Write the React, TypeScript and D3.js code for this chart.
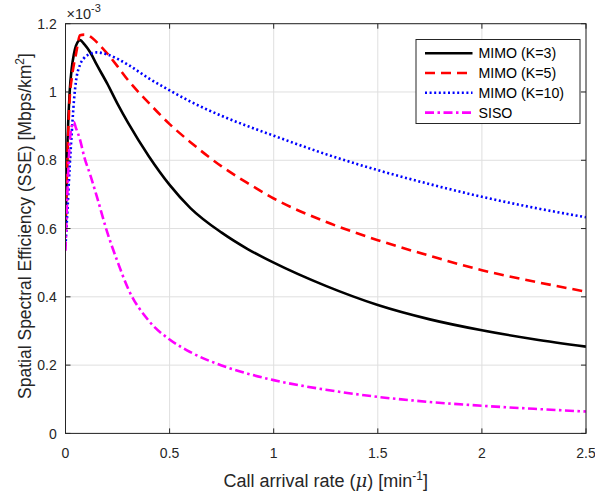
import React from "react";
import * as d3 from "d3";

const xs = [0, 0.01, 0.02, 0.03, 0.04, 0.05, 0.07, 0.09, 0.12, 0.15, 0.2, 0.25, 0.3, 0.4, 0.5, 0.6, 0.75, 0.875, 1, 1.25, 1.5, 1.75, 2, 2.25, 2.5];
const mimoK3 = [0.6, 0.86, 1.0, 1.07, 1.11, 1.135, 1.152, 1.14, 1.115, 1.08, 1.025, 0.965, 0.91, 0.812, 0.728, 0.66, 0.588, 0.54, 0.5, 0.432, 0.376, 0.334, 0.302, 0.276, 0.254];
const mimoK5 = [0.59, 0.82, 0.98, 1.04, 1.08, 1.11, 1.166, 1.168, 1.162, 1.146, 1.113, 1.075, 1.035, 0.968, 0.906, 0.853, 0.782, 0.733, 0.688, 0.62, 0.566, 0.52, 0.478, 0.445, 0.415];
const mimoK10 = [0.55, 0.66, 0.78, 0.88, 0.97, 1.03, 1.08, 1.1, 1.112, 1.116, 1.11, 1.097, 1.08, 1.04, 1.005, 0.972, 0.93, 0.9, 0.872, 0.818, 0.771, 0.73, 0.693, 0.661, 0.633];
const siso = [0.535, 0.72, 0.85, 0.9, 0.912, 0.895, 0.86, 0.81, 0.755, 0.695, 0.59, 0.503, 0.425, 0.33, 0.275, 0.238, 0.199, 0.175, 0.156, 0.128, 0.107, 0.092, 0.081, 0.072, 0.064];

const seriesNames = ["MIMO (K=3)", "MIMO (K=5)", "MIMO (K=10)", "SISO"];
const seriesValues = [mimoK3, mimoK5, mimoK10, siso];
const xTicks = [0, 0.5, 1, 1.5, 2, 2.5];
const yTicks = [0, 0.2, 0.4, 0.6, 0.8, 1, 1.2];

const styles = [
  { color: "#000000", dash: "none", width: 2.6 },
  { color: "#ff0000", dash: "10,6", width: 2.6 },
  { color: "#0000ff", dash: "2,2.6", width: 2.6 },
  { color: "#ff00ff", dash: "9,3.5,2.5,3.5", width: 2.6 },
];

const W = 595, H = 494;
const L = 65.5, R = 586, T = 23.7, B = 433.4;
const FONT = "'Liberation Sans', Arial, Helvetica, sans-serif";
const AX = "#262626";

export default function App() {
  const x = d3.scaleLinear().domain([0, 2.5]).range([L, R]);
  const y = d3.scaleLinear().domain([0, 1.2]).range([B, T]);
  const line = d3.line<number>().x((_, i) => x(xs[i])).y((d) => y(d)).curve(d3.curveMonotoneX);
  const tl = 5;
  const legX = 416, legY = 39.5, legW = 164, legH = 84;
  const rowY = [53.3, 73, 92.8, 112.6];
  return (
    <div style={{ position: "absolute", left: 0, top: 0 }}>
      <svg width={W} height={H} style={{ display: "block", background: "#fff" }} fontFamily={FONT}>
        <defs>
          <clipPath id="plotclip">
            <rect x={L} y={T} width={R - L} height={B - T} />
          </clipPath>
        </defs>
        <rect x={0} y={0} width={W} height={H} fill="#fff" />
        {xTicks.map((t) => (
          <line key={"gx" + t} x1={x(t)} x2={x(t)} y1={T} y2={B} stroke="#dfdfdf" strokeWidth={1} />
        ))}
        {yTicks.map((t) => (
          <line key={"gy" + t} x1={L} x2={R} y1={y(t)} y2={y(t)} stroke="#dfdfdf" strokeWidth={1} />
        ))}
        <g clipPath="url(#plotclip)">
          {seriesValues.map((vals, i) => (
            <path key={i} d={line(vals) || ""} fill="none" stroke={styles[i].color}
              strokeWidth={styles[i].width} strokeDasharray={styles[i].dash} strokeLinejoin="round" />
          ))}
        </g>
        <rect x={L} y={T} width={R - L} height={B - T} fill="none" stroke={AX} strokeWidth={1} />
        {xTicks.map((t) => (
          <g key={"tx" + t}>
            <line x1={x(t)} x2={x(t)} y1={B} y2={B - tl} stroke={AX} />
            <line x1={x(t)} x2={x(t)} y1={T} y2={T + tl} stroke={AX} />
            <text x={x(t)} y={458.3} textAnchor="middle" fontSize={14} fill={AX}>{String(t)}</text>
          </g>
        ))}
        {yTicks.map((t) => (
          <g key={"ty" + t}>
            <line x1={L} x2={L + tl} y1={y(t)} y2={y(t)} stroke={AX} />
            <line x1={R} x2={R - tl} y1={y(t)} y2={y(t)} stroke={AX} />
            <text x={56.7} y={y(t) + 5.2} textAnchor="end" fontSize={14} fill={AX}>{String(t)}</text>
          </g>
        ))}
        <text x={66.5} y={19} fontSize={14.5} fill={AX}>
          ×10<tspan dy={-7} fontSize={11}>-3</tspan>
        </text>
        <text x={325.7} y={487} textAnchor="middle" fontSize={18} fill={AX}>
          Call arrival rate (<tspan fontStyle="italic" fontFamily="'DejaVu Serif', serif">μ</tspan>) [min<tspan dy={-7} fontSize={12}>-1</tspan><tspan dy={7}>]</tspan>
        </text>
        <text transform={`translate(30.5,226) rotate(-90)`} textAnchor="middle" fontSize={17.5} fill={AX}>
          Spatial Spectral Efficiency (SSE) [Mbps/km<tspan dy={-7} fontSize={12}>2</tspan><tspan dy={7}>]</tspan>
        </text>
        <rect x={legX} y={legY} width={legW} height={legH} fill="#fff" stroke={AX} strokeWidth={1} />
        {seriesNames.map((n, i) => (
          <g key={"lg" + i}>
            <line x1={425} x2={472.5} y1={rowY[i]} y2={rowY[i]} stroke={styles[i].color}
              strokeWidth={styles[i].width} strokeDasharray={styles[i].dash} />
            <text x={478.5} y={rowY[i] + 5} fontSize={14.2} fill="#000">{n}</text>
          </g>
        ))}
      </svg>
    </div>
  );
}
